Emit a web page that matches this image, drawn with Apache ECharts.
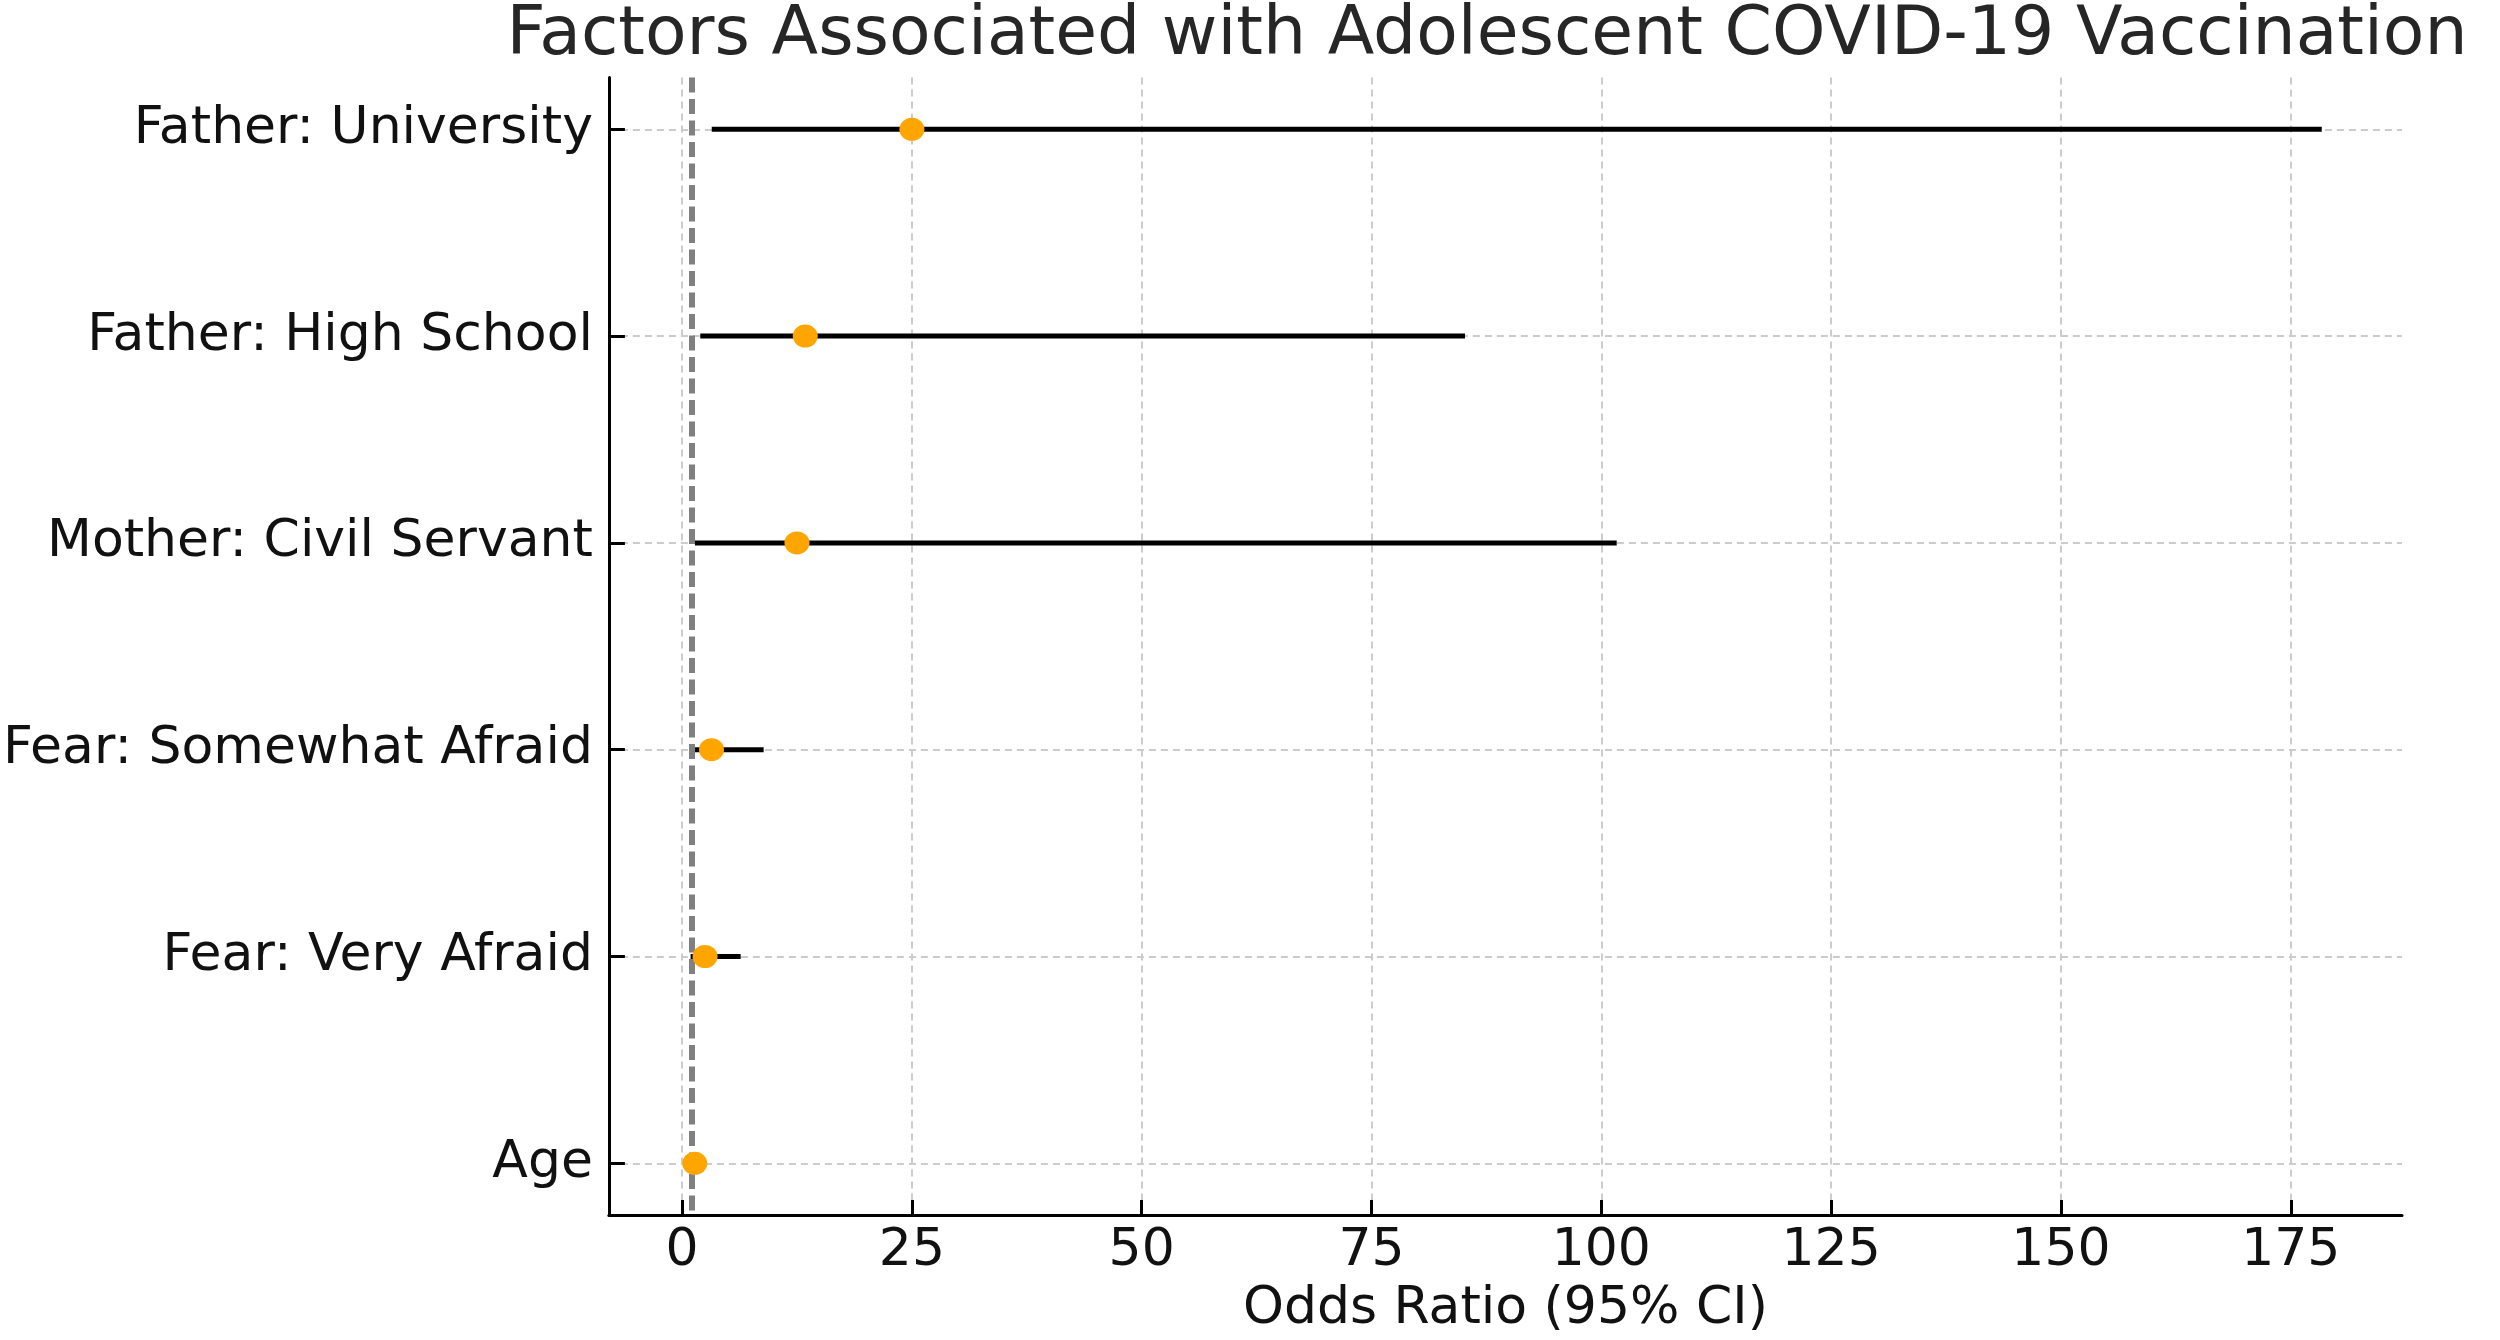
<!DOCTYPE html>
<html>
<head>
<meta charset="utf-8">
<script src="https://cdn.jsdelivr.net/npm/echarts@6/dist/echarts.min.js"></script>
<style>
html,body{margin:0;padding:0;background:#fff;}
#chart{width:2500px;height:1340px;}
</style>
</head>
<body>
<div id="chart"></div>
<script>
const categories = ['Father: University', 'Father: High School', 'Mother: Civil Servant', 'Fear: Somewhat Afraid', 'Fear: Very Afraid', 'Age'];
const oddsRatio = [25.0, 13.4, 12.5, 3.2, 2.5, 1.38];
const ciLower = [3.5, 2.25, 1.67, 1.2, 1.2, 1.15];
const ciUpper = [178.1, 84.9, 101.4, 8.6, 6.1, 1.65];
const xTicks = [0, 25, 50, 75, 100, 125, 150, 175];
const yTicks = [0, 1, 2, 3, 4, 5];
const referenceValue = 1;

const FONT = 'DejaVu Sans';
const chart = echarts.init(document.getElementById('chart'), null, {renderer: 'canvas'});

const barData = categories.map((c, i) => [ciLower[i], ciUpper[i], i]);
const pointData = categories.map((c, i) => [oddsRatio[i], i]);

const option = {
  backgroundColor: '#ffffff',
  animation: false,
  title: {
    text: 'Factors Associated with Adolescent COVID-19 Vaccination',
    left: 1482,
    textAlign: 'center',
    top: -3,
    textStyle: {fontFamily: FONT, fontSize: 68, fontWeight: 'normal', color: '#262626'}
  },
  grid: {left: 605, right: 98, top: 77.6, bottom: 124, containLabel: false},
  xAxis: {
    type: 'value',
    min: -7.96,
    max: 187.1,
    name: 'Odds Ratio (95% CI)',
    nameLocation: 'middle',
    nameGap: 68,
    nameTextStyle: {fontFamily: FONT, fontSize: 52, color: '#111'},
    axisLine: {show: true, onZero: false, lineStyle: {color: '#000', width: 3}},
    axisTick: {show: true, inside: true, length: 15, customValues: xTicks, lineStyle: {color: '#000', width: 3}},
    axisLabel: {customValues: xTicks, margin: 10, fontFamily: FONT, fontSize: 52, color: '#111'},
    splitLine: {show: true, lineStyle: {color: '#cccccc', width: 2, type: [7, 5]}}
  },
  yAxis: {
    type: 'value',
    inverse: true,
    min: -0.25,
    max: 5.25,
    axisLine: {show: true, onZero: false, lineStyle: {color: '#000', width: 3}},
    axisTick: {show: true, inside: true, length: 16, customValues: yTicks, lineStyle: {color: '#000', width: 3}},
    axisLabel: {
      customValues: yTicks,
      margin: 16,
      fontFamily: FONT, fontSize: 52, color: '#111',
      formatter: v => categories[Math.round(v)] || ''
    },
    splitLine: {show: true, lineStyle: {color: '#cccccc', width: 2, type: [7, 5]}}
  },
  series: [
    {
      type: 'custom',
      name: 'CI',
      data: barData,
      encode: {x: [0, 1], y: 2},
      z: 3,
      renderItem: function (params, api) {
        const p1 = api.coord([api.value(0), api.value(2)]);
        const p2 = api.coord([api.value(1), api.value(2)]);
        return {
          type: 'line',
          shape: {x1: p1[0], y1: p1[1], x2: p2[0], y2: p2[1]},
          style: {stroke: '#000', lineWidth: 5, lineCap: 'square'}
        };
      }
    },
    {
      type: 'scatter',
      name: 'OR',
      data: pointData,
      symbol: 'circle',
      symbolSize: [25, 23],
      itemStyle: {color: '#FFA500', opacity: 1},
      z: 5,
      markLine: {
        silent: true,
        symbol: 'none',
        label: {show: false},
        lineStyle: {color: '#808080', width: 6, type: [15, 6.5]},
        data: [{xAxis: referenceValue}],
        z: 4
      }
    }
  ]
};
chart.setOption(option);
</script>
</body>
</html>
